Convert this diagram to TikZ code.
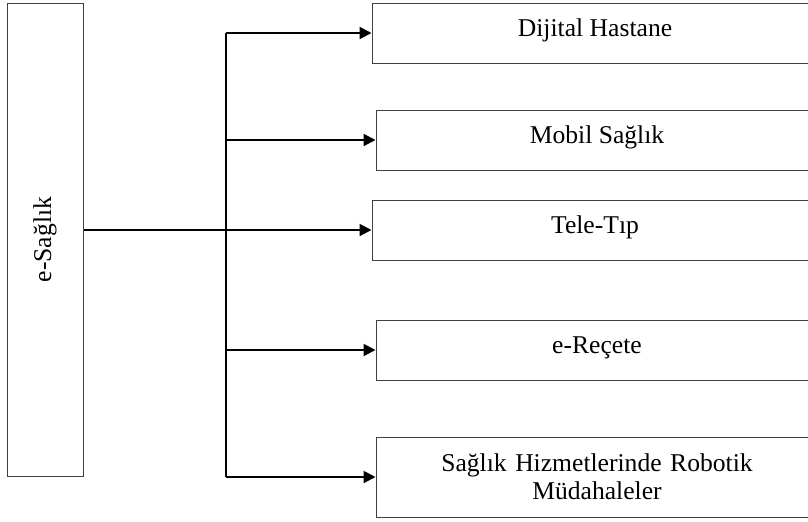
\documentclass[tikz,border=0pt]{standalone}
\usepackage{fontspec}
\setmainfont{Liberation Serif}
\usepackage{xcolor}
\usepackage{tikz}
\definecolor{boxgray}{RGB}{64, 64, 64}
\usetikzlibrary{arrows.meta}

\begin{document}
\begin{tikzpicture}[
    x=0.5pt, y=-0.5pt,
    mainbox/.style={rectangle, draw=boxgray, line width=0.5pt, rotate=90,
                    minimum width=236.5pt, minimum height=38pt, inner sep=0pt,
                    font=\fontsize{12.8}{14}\selectfont},
    itembox/.style={rectangle, draw=boxgray, line width=0.5pt,
                    minimum width=221pt, minimum height=30pt, inner sep=0pt,
                    align=center, font=\fontsize{12.8}{14}\selectfont},
    oneline/.style={text height=8.8pt, text depth=5.8pt},
    link/.style={-{Triangle[length=6pt, width=6pt]}, line width=1pt, black}
]
    \clip (0,0) rectangle (808,521);

    % Main box
    \node[mainbox] (esaglik) at (45,239.5) {e-Sağlık};

    % Items
    \node[itembox, oneline, minimum width=223pt] (dijital) at (595,33) {Dijital Hastane};
    \node[itembox, oneline] (mobil) at (597,140) {Mobil Sağlık};
    \node[itembox, oneline, minimum width=223pt] (teletip) at (595,230) {Tele-Tıp};
    \node[itembox, oneline] (recete) at (597,350) {e-Reçete};
    \node[itembox, minimum height=40pt, text width=200pt] (robotik) at (597,477)
        {Sağlık Hizmetlerinde Robotik\\Müdahaleler};

    % Arrows
    \coordinate (trunk) at (226,35);
    \draw[line width=1pt] (trunk |- dijital.west) -- (trunk |- robotik.west);
    \draw[link] (trunk |- dijital.west) -- (dijital.west);
    \draw[link] (trunk |- mobil.west) -- (mobil.west);
    \draw[link] (esaglik.south |- teletip.west) -- (teletip.west);
    \draw[link] (trunk |- recete.west) -- (recete.west);
    \draw[link] (trunk |- robotik.west) -- (robotik.west);
\end{tikzpicture}
\end{document}
